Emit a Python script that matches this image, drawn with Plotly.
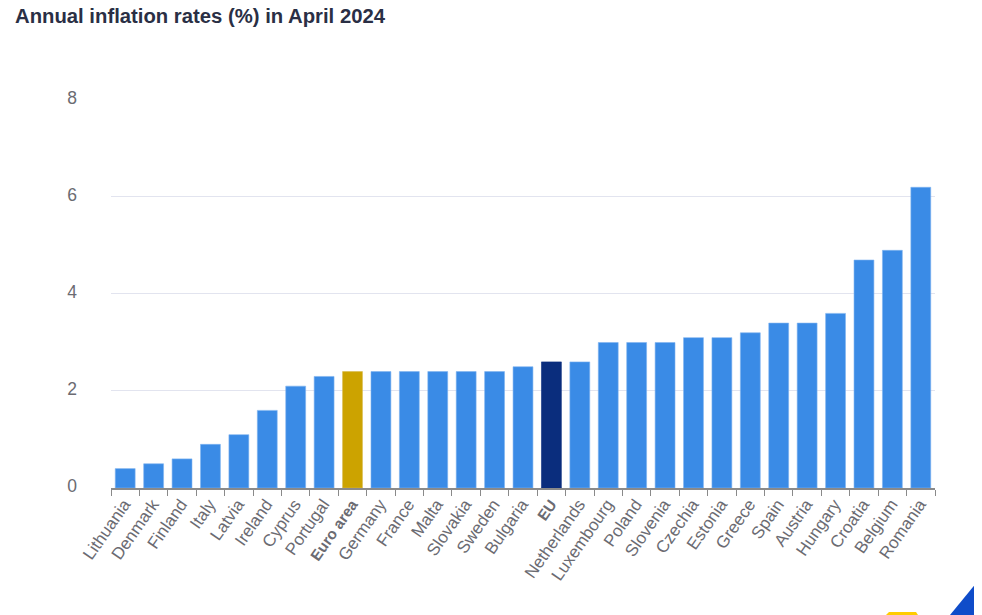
import plotly.graph_objects as go

countries = ["Lithuania","Denmark","Finland","Italy","Latvia","Ireland","Cyprus","Portugal","Euro area","Germany","France","Malta","Slovakia","Sweden","Bulgaria","EU","Netherlands","Luxembourg","Poland","Slovenia","Czechia","Estonia","Greece","Spain","Austria","Hungary","Croatia","Belgium","Romania"]
values = [0.4,0.5,0.6,0.9,1.1,1.6,2.1,2.3,2.4,2.4,2.4,2.4,2.4,2.4,2.5,2.6,2.6,3.0,3.0,3.0,3.1,3.1,3.2,3.4,3.4,3.6,4.7,4.9,6.2]
colors = ["#3a8be6"]*len(values)
colors[8] = "#cca300"
colors[15] = "#0a2d7d"
edges = ["#7fb4f0"]*len(values)
edges[8] = "#d9bb4d"
edges[15] = "#0a2d7d"
title = "Annual inflation rates (%) in April 2024"
yticks = [0,2,4,6,8]
highlight = {"Euro area", "EU"}
ticktext = [f"<span style='font-size:15.2px'><b>{c}</b></span>" if c in highlight else c for c in countries]

L, R, T, B = 103, 55, 91, 135
W, H = 982, 615
def px(x):
    return (x - 8 - L) / (W - L - R)
def py(y):
    return (H - B - (y - 8)) / (H - T - B)

fig = go.Figure(go.Bar(x=countries, y=values, marker=dict(color=colors, line=dict(width=0.6, color=edges)), width=0.7, hoverinfo="x+y"))
fig.update_layout(
    width=W, height=H, margin=dict(l=L, r=R, t=T, b=B),
    plot_bgcolor="white", paper_bgcolor="white", showlegend=False,
    font=dict(family="Liberation Sans, Arial, sans-serif"),
    title=dict(text="<b>"+title+"</b>", x=7/W, xanchor="left", y=1-8/H, yanchor="middle",
               font=dict(size=20.3, color="#2a2f45", family="Liberation Sans, Arial, sans-serif")),
    xaxis=dict(type="category", tickmode="array", tickvals=countries, ticktext=ticktext,
               tickangle=-55, tickfont=dict(size=17, color="#6b6b72"),
               showline=True, linecolor="#8a8a8a", linewidth=1.5, ticks="outside", ticklen=6, tickcolor="#8a8a8a",
               tickson="boundaries", range=[-0.5, 28.5], showgrid=False, automargin=False,
               ticklabelstandoff=-2, ticklabelshift=-1),
    yaxis=dict(range=[0,8.02], tickvals=yticks, tickfont=dict(size=17.5, color="#6b6b72"),
               gridcolor="#e2e4ef", gridwidth=1, zeroline=False, showline=False, ticks="",
               ticklabelstandoff=33, ticklabelshift=-2, automargin=False),
    shapes=[
        dict(type="path", xref="paper", yref="paper",
             path=f"M {px(950)} {py(615)} L {px(982)} {py(576)} L {px(982)} {py(615)} Z",
             fillcolor="#0f4cc9", line_width=0, layer="above"),
        dict(type="path", xref="paper", yref="paper",
             path=f"M {px(886)} {py(615)} L {px(889)} {py(612)} L {px(916)} {py(612)} L {px(918)} {py(615)} Z",
             fillcolor="#ffcc00", line_width=0, layer="above"),
    ],
)
fig.write_html("out.html")
